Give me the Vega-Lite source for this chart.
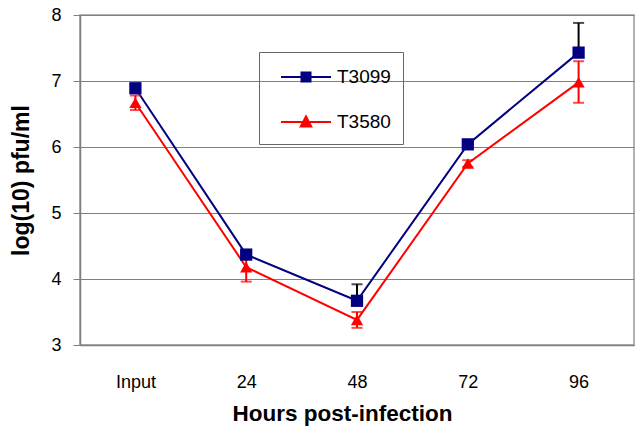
{
  "$schema": "https://vega.github.io/schema/vega-lite/v6.json",
  "width": 554,
  "height": 330,
  "autosize": {"type": "none"},
  "padding": {"left": 80, "top": 15, "right": 9, "bottom": 96},
  "background": "white",
  "config": {
    "font": "Liberation Sans",
    "view": {"stroke": "#999999", "strokeWidth": 1.5},
    "axis": {"domainColor": "#808080", "domainWidth": 1.5, "gridColor": "#808080", "gridWidth": 1, "labelColor": "black", "titleColor": "black", "titleFontWeight": "bold"},
    "axisX": {"ticks": false, "labelFontSize": 18, "labelPadding": 28, "titleFontSize": 22.5, "titlePadding": 11, "grid": false, "labelAngle": 0, "titleX": 262},
    "axisY": {"tickSize": 7, "tickColor": "#808080", "labelFontSize": 18, "labelPadding": 12, "titleFontSize": 23, "titlePadding": 17, "grid": true}
  },
  "data": {
    "values": [
      {"hour": "Input", "series": "T3099", "value": 6.89, "lo": 6.89, "hi": 6.95},
      {"hour": "24", "series": "T3099", "value": 4.37, "lo": 4.37, "hi": 4.42},
      {"hour": "48", "series": "T3099", "value": 3.67, "lo": 3.67, "hi": 3.92},
      {"hour": "72", "series": "T3099", "value": 6.04, "lo": 6.04, "hi": 6.08},
      {"hour": "96", "series": "T3099", "value": 7.43, "lo": 7.43, "hi": 7.88},
      {"hour": "Input", "series": "T3580", "value": 6.67, "lo": 6.56, "hi": 6.78},
      {"hour": "24", "series": "T3580", "value": 4.18, "lo": 3.96, "hi": 4.4},
      {"hour": "48", "series": "T3580", "value": 3.38, "lo": 3.26, "hi": 3.5},
      {"hour": "72", "series": "T3580", "value": 5.75, "lo": 5.7, "hi": 5.8},
      {"hour": "96", "series": "T3580", "value": 6.98, "lo": 6.67, "hi": 7.3}
    ]
  },
  "encoding": {
    "x": {
      "field": "hour", "type": "nominal", "sort": ["Input", "24", "48", "72", "96"],
      "scale": {"type": "point", "padding": 0.5},
      "axis": {"title": "Hours post-infection"}
    }
  },
  "layer": [
    {
      "mark": {"type": "line", "strokeWidth": 2},
      "encoding": {
        "y": {"field": "value", "type": "quantitative", "scale": {"domain": [3, 8], "nice": false},
          "axis": {"title": "log(10) pfu/ml", "values": [3, 4, 5, 6, 7, 8], "format": "d", "labelOverlap": false}},
        "color": {"field": "series", "type": "nominal", "scale": {"domain": ["T3099", "T3580"], "range": ["#000080", "#ff0000"]},
          "legend": {
            "title": null, "orient": "none", "legendX": 179, "legendY": 37,
            "labelFontSize": 19, "labelOffset": 39.5, "symbolSize": 625, "symbolStrokeWidth": 2,
            "labelExpr": "datum.label + '\u2003'",
            "rowPadding": 21, "padding": 11.5, "strokeColor": "#666666",
            "encode": {"symbols": {"update": {
              "shape": {"signal": "datum.value === 'T3099' ? 'M-0.24,0H3.76M1.4,-0.36H2.12V0.36H1.4Z' : 'M-0.24,0H3.76M1.76,-0.44L2.18,0.36H1.34Z'"},
              "fill": {"signal": "datum.value === 'T3099' ? '#000080' : '#ff0000'"},
              "stroke": {"signal": "datum.value === 'T3099' ? '#000080' : '#ff0000'"},
              "fillOpacity": {"value": 1},
              "strokeWidth": {"value": 2}
            }}}
          }}
      }
    },
    {
      "mark": {"type": "rule", "strokeWidth": 2},
      "encoding": {
        "y": {"field": "lo", "type": "quantitative"},
        "y2": {"field": "hi"},
        "color": {"condition": {"test": "datum.series === 'T3099'", "value": "black"}, "value": "#ff0000"}
      }
    },
    {
      "mark": {"type": "tick", "orient": "horizontal", "size": 11, "thickness": 2},
      "encoding": {
        "y": {"field": "hi", "type": "quantitative"},
        "color": {"condition": {"test": "datum.series === 'T3099'", "value": "black"}, "value": "#ff0000"}
      }
    },
    {
      "transform": [{"filter": "datum.series === 'T3580'"}],
      "mark": {"type": "tick", "orient": "horizontal", "size": 11, "thickness": 2, "color": "#ff0000"},
      "encoding": {
        "y": {"field": "lo", "type": "quantitative"}
      }
    },
    {
      "transform": [{"filter": "datum.series === 'T3099'"}],
      "mark": {"type": "point", "filled": true, "opacity": 1, "size": 150, "shape": "square"},
      "encoding": {
        "y": {"field": "value", "type": "quantitative"},
        "color": {"field": "series", "type": "nominal"}
      }
    },
    {
      "transform": [{"filter": "datum.series === 'T3580'"}],
      "mark": {"type": "point", "filled": true, "opacity": 1, "size": 150, "shape": "triangle-up"},
      "encoding": {
        "y": {"field": "value", "type": "quantitative"},
        "color": {"field": "series", "type": "nominal"}
      }
    }
  ]
}
